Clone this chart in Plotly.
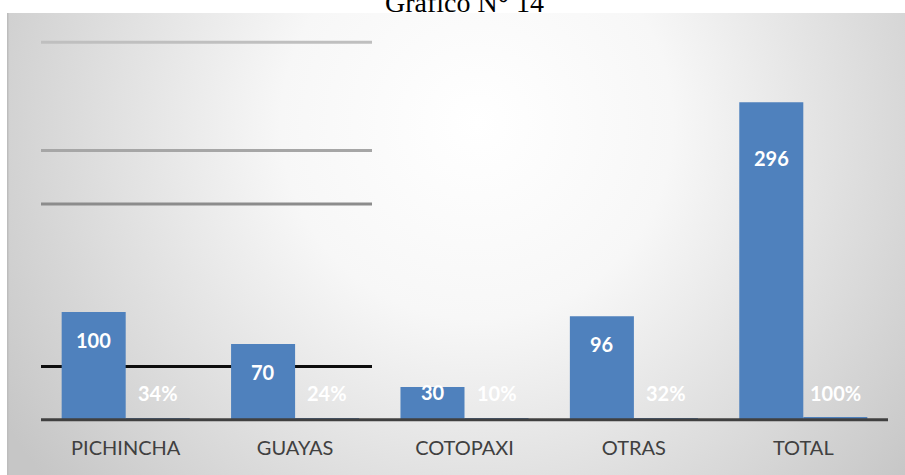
import base64
import plotly.graph_objects as go

# ---- data ----
categories = ["PICHINCHA", "GUAYAS", "COTOPAXI", "OTRAS", "TOTAL"]
cantidad = [100, 70, 30, 96, 296]
porcentaje = [0.34, 0.24, 0.10, 0.32, 1.00]
pct_labels = ["34%", "24%", "10%", "32%", "100%"]
title_text = "Gráfico N° 14"

# stray horizontal rules visible on the left side of the original picture (data units)
stray_levels = [352, 251, 201, 49]
stray_colors = ["#bfbfbf", "#a6a6a6", "#8c8c8c", "#0d0d0d"]

# ---- styling ----
BLUE = "#4F81BD"
W, H = 905, 475
ML, MR, MT, MB = 41, 17, 13, 56
plot_w = W - ML - MR
plot_h = H - MT - MB
px_per_unit = 1.07
y_max = plot_h / px_per_unit
value_label_shift = [-28, -28, -5, -28, -56]

# background gradient panel (svg data uri)
pw, ph = 898, 462
svg = f'''<svg xmlns="http://www.w3.org/2000/svg" width="{pw}" height="{ph}" viewBox="0 0 {pw} {ph}" preserveAspectRatio="none">
<defs><radialGradient id="g" gradientUnits="userSpaceOnUse" cx="470" cy="110" r="560">
<stop offset="0" stop-color="#ffffff"/><stop offset="0.35" stop-color="#f7f7f7"/><stop offset="1" stop-color="#c6c6c6"/>
</radialGradient></defs>
<rect x="0" y="0" width="{pw}" height="{ph}" fill="url(#g)"/>
<rect x="0" y="0" width="1.5" height="{ph}" fill="#bdbdbd"/>
</svg>'''
src = "data:image/svg+xml;base64," + base64.b64encode(svg.encode()).decode()

fig = go.Figure()
fig.add_trace(go.Bar(x=categories, y=cantidad, name="Cantidad", marker=dict(color=BLUE, line=dict(width=0)),
                     hoverinfo="x+y"))
fig.add_trace(go.Bar(x=categories, y=porcentaje, name="Porcentaje", marker=dict(color=BLUE, line=dict(width=0)),
                     hoverinfo="x+y"))

annotations = []
for c, v, s in zip(categories, cantidad, value_label_shift):
    annotations.append(dict(x=c, y=v, xref="x", yref="y", text=f"<b>{v}</b>", showarrow=False,
                            xshift=-32, yshift=s, yanchor="middle",
                            font=dict(family="Lato", size=20, color="white")))
for c, p in zip(categories, pct_labels):
    annotations.append(dict(x=c, y=0, xref="x", yref="y", text=f"<b>{p}</b>", showarrow=False,
                            xshift=32, yshift=26, yanchor="middle",
                            font=dict(family="Lato", size=20, color="white")))
annotations.append(dict(x=0.5, y=1 + 10 / plot_h, xref="paper", yref="paper", text=title_text,
                        showarrow=False, yanchor="middle",
                        font=dict(family="Liberation Serif", size=28, color="black")))

shapes = []
for lvl, col in zip(stray_levels, stray_colors):
    shapes.append(dict(type="line", xref="paper", yref="y", x0=0, x1=(372 - ML) / plot_w, y0=lvl, y1=lvl,
                       line=dict(color=col, width=3), layer="below"))
# category axis baseline
shapes.append(dict(type="line", xref="paper", yref="paper", x0=0, x1=1, y0=-0.8 / plot_h, y1=-0.8 / plot_h,
                   line=dict(color="#404040", width=3), layer="above"))

fig.update_layout(
    width=W, height=H,
    margin=dict(l=ML, r=MR, t=MT, b=MB, pad=0),
    paper_bgcolor="white", plot_bgcolor="rgba(0,0,0,0)",
    barmode="group", bargap=0.244, bargroupgap=0,
    showlegend=False,
    annotations=annotations,
    shapes=shapes,
    images=[dict(source=src, xref="paper", yref="paper", x=-(ML - 7) / plot_w, y=1,
                 sizex=pw / plot_w, sizey=ph / plot_h, xanchor="left", yanchor="top",
                 sizing="stretch", layer="below")],
    xaxis=dict(type="category", showline=False, showgrid=False,
               ticks="outside", ticklen=11, tickcolor="rgba(0,0,0,0)", zeroline=False,
               tickfont=dict(family="Lato", size=20, color="#404040")),
    yaxis=dict(range=[0, y_max], visible=False, showgrid=False, zeroline=False),
)

fig.write_html("out.html", config={"displayModeBar": False},
               post_script="document.body.style.margin='0';")
